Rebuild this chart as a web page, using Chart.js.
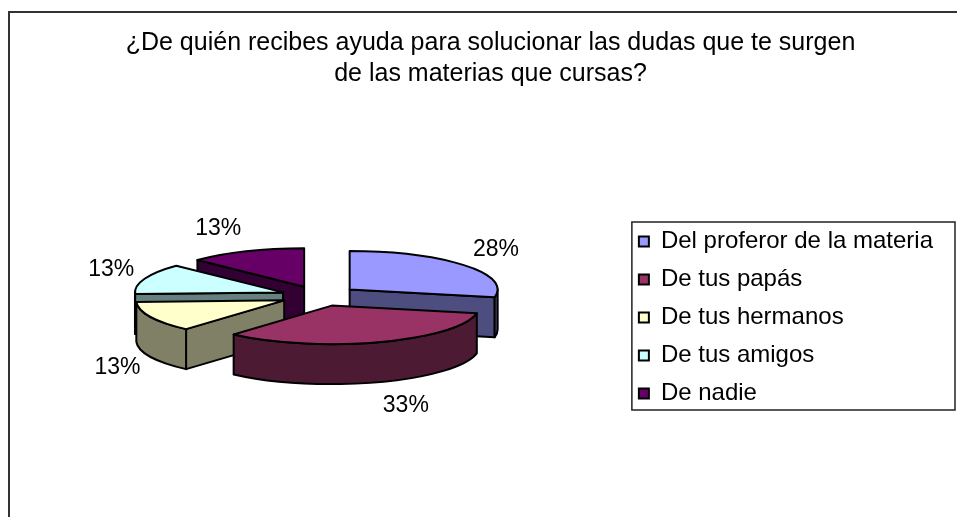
<!DOCTYPE html>
<html>
<head>
<meta charset="utf-8">
<script src="https://cdn.jsdelivr.net/npm/chart.js@4.4.1/dist/chart.umd.min.js"></script>
<style>
html,body{margin:0;padding:0;background:#fff;}
canvas{display:block;}
</style>
</head>
<body>
<canvas id="c" width="957" height="517"></canvas>
<script>
// ---- data ----
const titleLines = ['¿De quién recibes ayuda para solucionar las dudas que te surgen', 'de las materias que cursas?'];
const categories = ['Del proferor de la materia', 'De tus papás', 'De tus hermanos', 'De tus amigos', 'De nadie'];
const responses = [11, 13, 5, 5, 5];

// ---- style ----
const topColors = ['#9999FF', '#993366', '#FFFFCC', '#CCFFFF', '#660066'];
const wallColors = ['#4D4D80', '#4D1A33', '#808066', '#668080', '#330033'];
const FONT = '"Liberation Sans", Arial, Helvetica, sans-serif';
const TILT = 0.26;   // vertical squash of the pie ellipse
const DEPTH = 40;    // thickness of the 3D pie

const framePlugin = {
  id: 'frame',
  beforeDraw(chart) {
    const c = chart.ctx;
    c.save();
    c.fillStyle = '#fff';
    c.fillRect(0, 0, chart.width, chart.height);
    c.strokeStyle = '#333';
    c.lineWidth = 2;
    c.strokeRect(9, 12, chart.width, chart.height);
    c.restore();
  },
  afterDraw(chart) {
    const c = chart.ctx;
    const hb = chart.legend.legendHitBoxes;
    if (!hb || !hb.length) return;
    const first = hb[0], last = hb[hb.length - 1];
    const x0 = first.left - 7, y0 = first.top - 7.5;
    const x1 = chart.width - 2, y1 = last.top + last.height + 4.5;
    c.save();
    c.strokeStyle = '#222';
    c.lineWidth = 1.5;
    c.strokeRect(x0, y0, x1 - x0, y1 - y0);
    c.restore();
  }
};

// invisible layout box between the plot area and the legend
const spacerPlugin = {
  id: 'spacer',
  beforeInit(chart) {
    Chart.layouts.addBox(chart, {
      position: 'right', weight: 0, fullSize: false,
      options: { display: false, stackWeight: 1 },
      width: 0, height: 0, left: 0, top: 0, right: 0, bottom: 0,
      isHorizontal() { return false; },
      update(maxWidth, maxHeight) { this.width = 24; this.height = maxHeight; },
      draw() {}
    });
  }
};

const pie3dPlugin = {
  id: 'pie3d',
  beforeDatasetsDraw(chart) {
    const ctx = chart.ctx;
    const meta = chart.getDatasetMeta(0);
    const values = chart.data.datasets[0].data;
    const total = values.reduce((a, b) => a + b, 0);
    const slices = meta.data.map((el, i) => {
      const p = el.getProps(['x', 'y', 'startAngle', 'endAngle', 'outerRadius'], true);
      const off = el.options.offset || 0;
      const m = (p.startAngle + p.endAngle) / 2;
      const rx = p.outerRadius, ry = rx * TILT;
      return { i, s: p.startAngle, e: p.endAngle, m, rx, ry,
        vx: p.x + off * Math.cos(m), vy: p.y + off * Math.sin(m) * TILT };
    });
    const order = slices.slice().sort((a, b) => Math.sin(a.m) - Math.sin(b.m));
    ctx.save();
    ctx.lineWidth = 2;
    ctx.strokeStyle = '#000';
    ctx.lineJoin = 'round';
    for (const sl of order) {
      const pt = (a) => [sl.vx + sl.rx * Math.cos(a), sl.vy + sl.ry * Math.sin(a)];
      const face = (a) => {
        const [x, y] = pt(a);
        ctx.beginPath();
        ctx.moveTo(sl.vx, sl.vy);
        ctx.lineTo(x, y);
        ctx.lineTo(x, y + DEPTH);
        ctx.lineTo(sl.vx, sl.vy + DEPTH);
        ctx.closePath();
        ctx.fillStyle = wallColors[sl.i];
        ctx.fill();
        ctx.stroke();
      };
      if (Math.cos(sl.s) < -1e-6) face(sl.s);
      if (Math.cos(sl.e) > 1e-6) face(sl.e);
      const a1 = Math.max(sl.s, 0), a2 = Math.min(sl.e, Math.PI);
      if (a2 > a1) {
        ctx.beginPath();
        ctx.ellipse(sl.vx, sl.vy, sl.rx, sl.ry, 0, a1, a2, false);
        ctx.ellipse(sl.vx, sl.vy + DEPTH, sl.rx, sl.ry, 0, a2, a1, true);
        ctx.closePath();
        ctx.fillStyle = wallColors[sl.i];
        ctx.fill();
        ctx.stroke();
      }
      ctx.beginPath();
      ctx.moveTo(sl.vx, sl.vy);
      ctx.ellipse(sl.vx, sl.vy, sl.rx, sl.ry, 0, sl.s, sl.e, false);
      ctx.closePath();
      ctx.fillStyle = topColors[sl.i];
      ctx.fill();
      ctx.stroke();
    }
    // percentage labels
    ctx.fillStyle = '#000';
    ctx.font = '23px ' + FONT;
    ctx.textAlign = 'center';
    ctx.textBaseline = 'middle';
    for (const sl of slices) {
      const c = Math.cos(sl.m), s = Math.sin(sl.m);
      const px = sl.vx + sl.rx * c;
      const py = sl.vy + sl.ry * s + (s > 0 ? DEPTH : 0);
      const lx = px + c * 10 + Math.sign(c) * 24;
      const ly = py + s * 25;
      ctx.fillText(Math.round(values[sl.i] / total * 100) + '%', lx, ly);
    }
    ctx.restore();
    return false;
  }
};

new Chart(document.getElementById('c'), {
  type: 'pie',
  data: {
    labels: categories,
    datasets: [{
      data: responses,
      backgroundColor: topColors,
      borderColor: '#000',
      borderWidth: 2,
      offset: 39,
      radius: 148
    }]
  },
  options: {
    responsive: false,
    animation: false,
    events: [],
    layout: { padding: { left: 38, right: 14, top: 0, bottom: 97.5 } },
    plugins: {
      title: {
        display: true,
        text: titleLines,
        color: '#000',
        font: { family: FONT, size: 25, weight: 'normal', lineHeight: 1.24 },
        padding: { top: 28, bottom: 82.5 }
      },
      legend: {
        position: 'right',
        align: 'end',
        fullSize: false,
        labels: {
          color: '#000',
          font: { family: FONT, size: 24 },
          boxWidth: 10,
          boxHeight: 10,
          padding: 14
        }
      },
      tooltip: { enabled: false }
    }
  },
  plugins: [framePlugin, spacerPlugin, pie3dPlugin]
});
</script>
</body>
</html>
